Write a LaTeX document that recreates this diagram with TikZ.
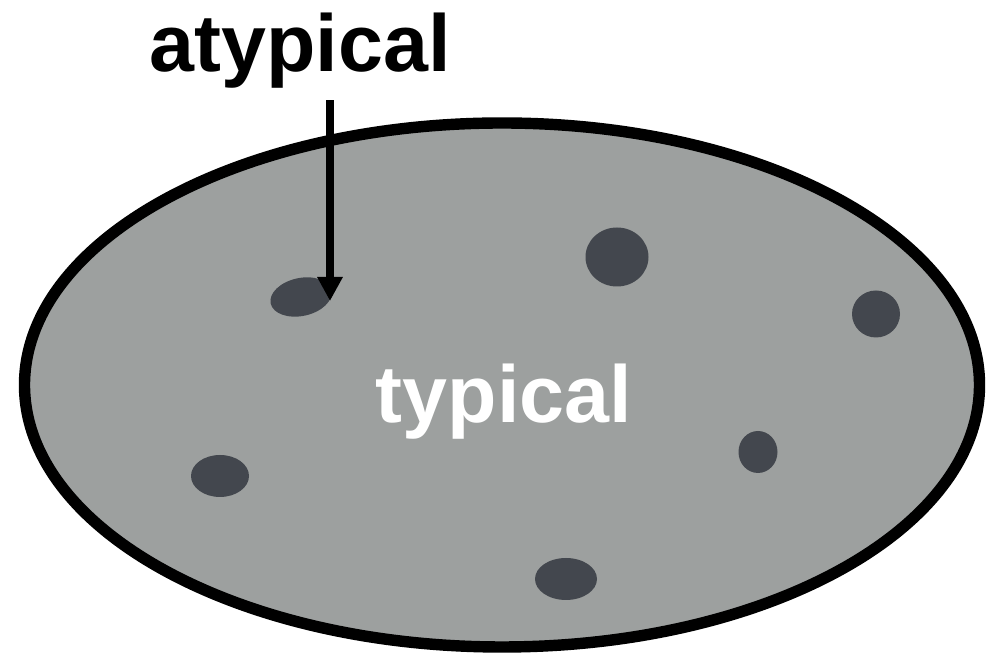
\documentclass[tikz,border=0pt]{standalone}
\usepackage{fontspec}
\setmainfont{Liberation Sans}
\usepackage{xcolor}
\usepackage{tikz}
\usetikzlibrary{arrows.meta,positioning,calc}

\definecolor{blobgray}{RGB}{157,160,159}
\definecolor{dotgray}{RGB}{67,71,78}

\begin{document}
\begin{tikzpicture}[every node/.style={font=\fontsize{46}{52}\selectfont\bfseries}]
\useasboundingbox (0,0) rectangle (20.08,13.14);
% the population
\draw[fill=blobgray, draw=black, line width=6.5pt] (10.04,5.44) ellipse (9.55 and 5.24);
\node[white, anchor=base] (typlbl) at (10.08,4.68) {typical};
% outliers
\fill[dotgray, rotate around={12:(6.02,7.2)}] (6.02,7.2) ellipse (0.62 and 0.38);
\foreach \x/\y/\rx/\ry in {12.34/8.0/0.63/0.59, 17.52/6.86/0.48/0.47, 4.4/3.62/0.58/0.42,
  15.16/4.1/0.39/0.42, 11.32/1.56/0.62/0.42}{
  \fill[dotgray] (\x,\y) ellipse [x radius=\rx, y radius=\ry];
}
\node[anchor=base] (atyplbl) at (6.0,11.7) {atypical};
\coordinate (tip) at (6.6,7.12);
\draw[line width=4.5pt, -{Triangle[length=0.48cm, width=0.48cm]}, shorten <=3pt] (atyplbl.south -| tip) -- (tip);
\end{tikzpicture}
\end{document}
